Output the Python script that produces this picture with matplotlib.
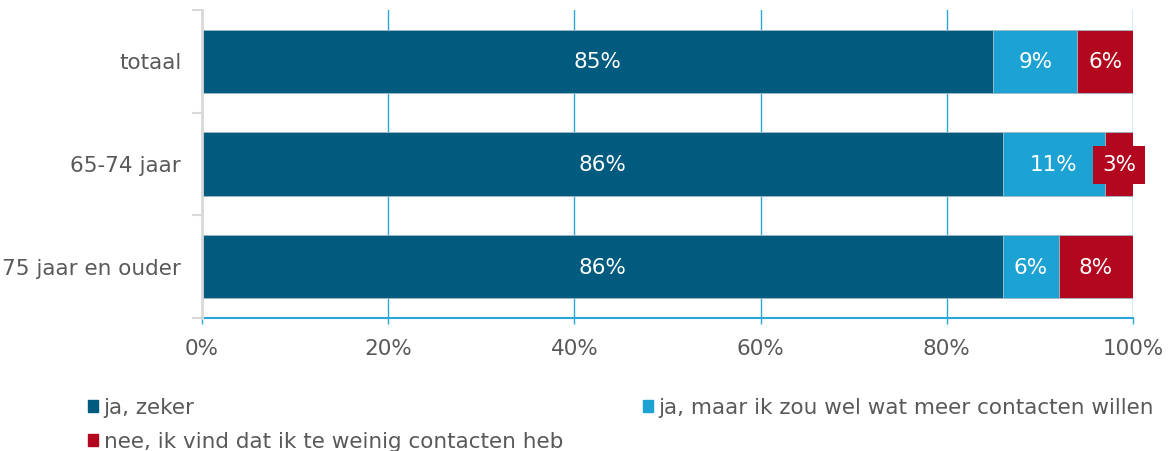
import matplotlib
matplotlib.use("Agg")
import matplotlib.pyplot as plt
from matplotlib.patches import Rectangle
import numpy as np

categories = ["totaal", "65-74 jaar", "75 jaar en ouder"]
series_names = ["ja, zeker",
                "ja, maar ik zou wel wat meer contacten willen",
                "nee, ik vind dat ik te weinig contacten heb"]
ja_zeker = [85, 86, 86]
ja_maar = [9, 11, 6]
nee = [6, 3, 8]
x_ticks = [0, 20, 40, 60, 80, 100]
x_tick_labels = ["0%", "20%", "40%", "60%", "80%", "100%"]

colors = ["#005B7F", "#1DA3D3", "#B2071E"]
grey = "#595959"
gridblue = "#2AA7D8"
FS = 15.5

plt.rcParams["font.family"] = ["DejaVu Sans"]

fig = plt.figure(figsize=(11.72, 4.51), dpi=100)
ax = fig.add_axes([202/1172, 1-318/451, (1133-202)/1172, (318-10)/451])

y = np.arange(len(categories))
series = [ja_zeker, ja_maar, nee]
left = np.zeros(len(categories))
for si, (vals, col) in enumerate(zip(series, colors)):
    vals = np.array(vals, dtype=float)
    ax.barh(y, vals, left=left, height=0.62, color=col,
            edgecolor="#9fb8c4", linewidth=0.6, zorder=3,
            label=series_names[si])
    for i, v in enumerate(vals):
        cx = left[i] + v / 2
        kw = {}
        if v < 4:
            kw["bbox"] = dict(boxstyle="square,pad=0.4", fc=col, ec="none")
        ax.text(cx, y[i] + 0.01, f"{int(v)}%", ha="center", va="center",
                color="white", fontsize=FS, zorder=5, **kw)
    left += vals

ax.set_xlim(0, 100)
ax.set_ylim(2.5, -0.5)
ax.set_xticks(x_ticks)
ax.set_xticklabels(x_tick_labels)
ax.set_yticks(y)
ax.set_yticklabels(categories)
ax.set_yticks([-0.5, 0.5, 1.5, 2.5], minor=True)

ax.tick_params(axis="y", which="major", length=0, pad=15, labelsize=FS, labelcolor=grey)
ax.tick_params(axis="y", which="minor", length=7, width=1.5, color="#D9D9D9")
ax.tick_params(axis="x", which="major", length=4, width=1, color=gridblue,
               pad=11, labelsize=FS, labelcolor=grey)

ax.grid(axis="x", color=gridblue, linewidth=1, zorder=0)
for s in ["top", "right"]:
    ax.spines[s].set_visible(False)
ax.spines["left"].set_color("#D9D9D9")
ax.spines["left"].set_linewidth(2)
ax.spines["left"].set_zorder(4)
ax.spines["bottom"].set_color(gridblue)
ax.spines["bottom"].set_linewidth(1.5)

leg_handles = [Rectangle((0, 0), 1, 1, color=c) for c in colors]
order = [0, 2, 1]
leg = fig.legend([leg_handles[i] for i in order], [series_names[i] for i in order],
                 ncol=2, loc="upper left", bbox_to_anchor=(88/1172, 1-398/451),
                 frameon=False, fontsize=FS, handlelength=0.48, handleheight=0.48,
                 handletextpad=0.25, columnspacing=3.7, labelspacing=0.65,
                 borderpad=0, borderaxespad=0)
for t in leg.get_texts():
    t.set_color(grey)

fig.savefig("out.png", dpi=100)
